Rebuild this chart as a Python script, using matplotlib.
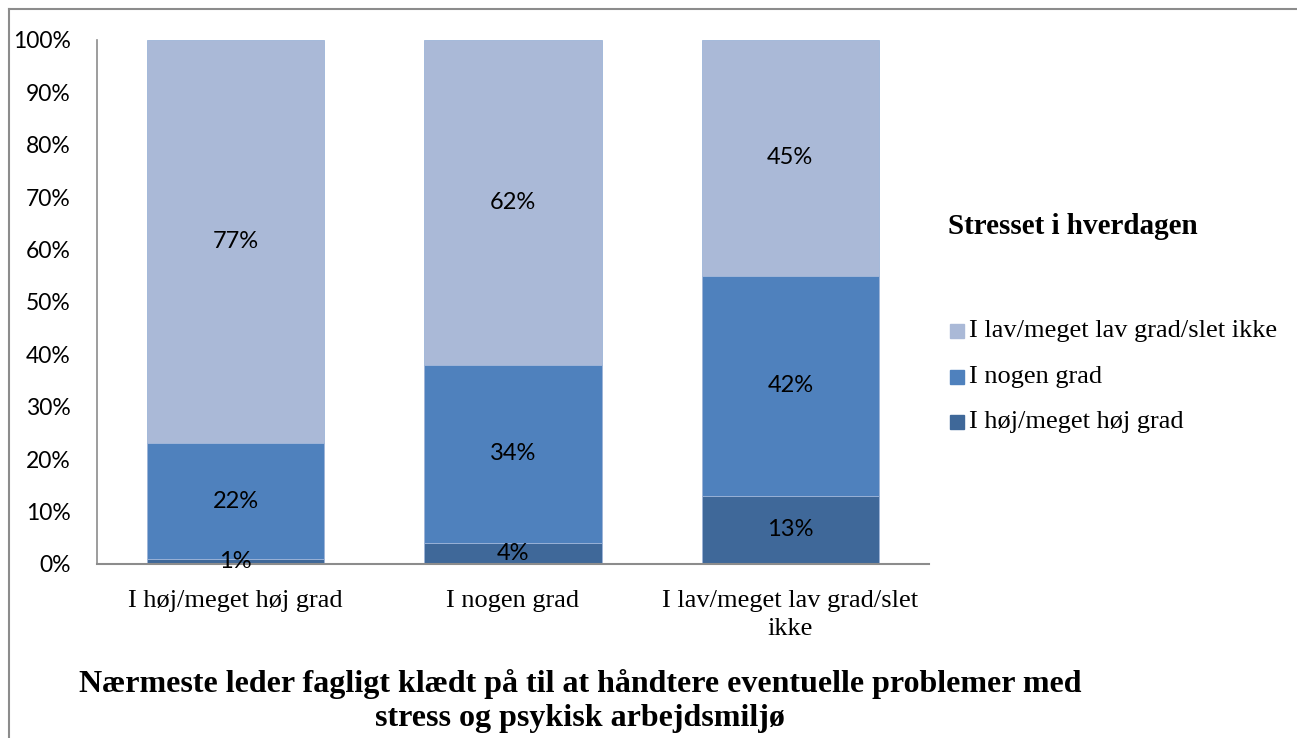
import matplotlib
matplotlib.use("Agg")
import matplotlib.pyplot as plt
from matplotlib.patches import Rectangle
import numpy as np

categories = ["I høj/meget høj grad", "I nogen grad", "I lav/meget lav grad/slet\nikke"]
series_names = ["I høj/meget høj grad", "I nogen grad", "I lav/meget lav grad/slet ikke"]
high = [1, 4, 13]
some = [22, 34, 42]
low = [77, 62, 45]
yticks = [0, 10, 20, 30, 40, 50, 60, 70, 80, 90, 100]
colors = ["#3F6899", "#4F81BD", "#AAB9D7"]

W, H = 1297, 738
fig = plt.figure(figsize=(W / 100, H / 100), dpi=100)
fig.patch.set_facecolor("white")

# frame around chart
fig.add_artist(plt.Line2D([9 / W, 9 / W], [0, 1 - 9 / H], color="#8c8c8c", lw=1.5))
fig.add_artist(plt.Line2D([9 / W, 1], [1 - 9 / H, 1 - 9 / H], color="#8c8c8c", lw=1.5))

ax = fig.add_axes([97 / W, 1 - 564 / H, (929 - 97) / W, (564 - 40) / H])
x = np.arange(len(categories))
width = 0.64
data = [high, some, low]
bottom = np.zeros(len(categories))
for vals, col, name in zip(data, colors, series_names):
    ax.bar(x, vals, width, bottom=bottom, color=col, label=name,
           edgecolor="#9db4d8", linewidth=0.6, zorder=2)
    for xi, v, bt in zip(x, vals, bottom):
        ax.text(xi, bt + v / 2, f"{v}%", ha="center", va="center",
                fontsize=17, family="Lato", color="black", zorder=3)
    bottom = bottom + np.array(vals)

ax.set_xlim(-0.5, 2.5)
ax.set_ylim(0, 100)
ax.set_yticks(yticks)
ax.set_yticklabels([f"{t}%" for t in yticks], fontsize=16.5, family="Lato")
ax.set_xticks(x)
ax.set_xticklabels(categories, fontsize=19, family="Liberation Serif", linespacing=1.35)
ax.tick_params(axis="both", length=0)
ax.tick_params(axis="y", pad=19)
ax.tick_params(axis="x", pad=19)
for s in ["top", "right"]:
    ax.spines[s].set_visible(False)
ax.spines["left"].set_color("#8c8c8c")
ax.spines["bottom"].set_color("#8c8c8c")
ax.spines["left"].set_linewidth(1.2)
ax.spines["bottom"].set_linewidth(1.5)

# legend
fig.text(948 / W, 1 - 227 / H, "Stresset i hverdagen", fontsize=21, fontweight="bold",
         family="Liberation Serif", va="center", ha="left")
leg_y = [331, 377, 422]
order = [2, 1, 0]
for yy, idx in zip(leg_y, order):
    fig.add_artist(Rectangle((950 / W, 1 - (yy + 7) / H), 14 / W, 14 / H,
                             transform=fig.transFigure, color=colors[idx]))
    fig.text(969 / W, 1 - yy / H, series_names[idx], fontsize=19,
             family="Liberation Serif", va="center", ha="left")

fig.text(580 / W, 1 - 701 / H,
         "Nærmeste leder fagligt klædt på til at håndtere eventuelle problemer med\nstress og psykisk arbejdsmiljø",
         fontsize=23, fontweight="bold", family="Liberation Serif", ha="center", va="center",
         linespacing=1.22)

fig.savefig("out.png", dpi=100, facecolor="white")
